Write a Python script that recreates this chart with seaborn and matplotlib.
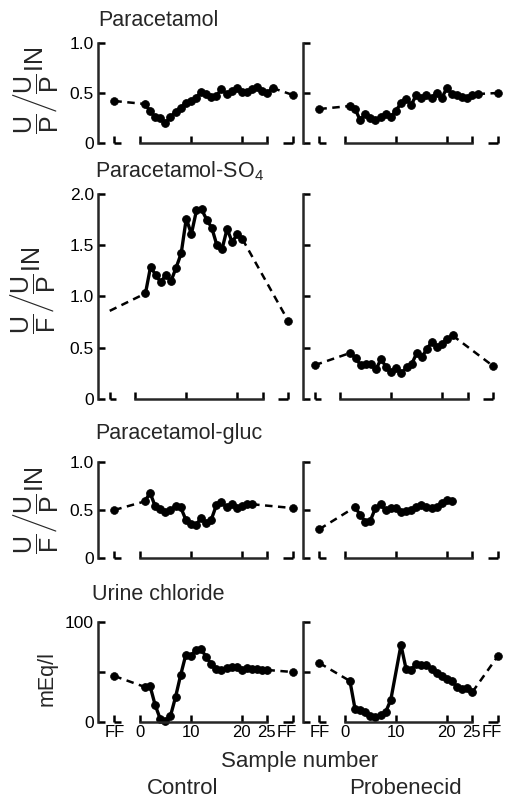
import matplotlib
matplotlib.use("Agg")
import matplotlib.pyplot as plt
import matplotlib.transforms as mtransforms
import pandas as pd
import seaborn as sns

sns.set_style("ticks")
plt.rcParams['font.family'] = ['Liberation Sans', 'DejaVu Sans']
plt.rcParams['mathtext.fontset'] = 'custom'
plt.rcParams['mathtext.rm'] = 'Liberation Sans'
plt.rcParams['mathtext.it'] = 'Liberation Sans'
plt.rcParams['mathtext.bf'] = 'Liberation Sans:bold'

# x position of the fore-period (FF) samples
FF_PRE = -5
FF_POST = 30

# Paracetamol
para_ctrl_x = list(range(1, 27))
para_ctrl_y = [0.39, 0.32, 0.26, 0.25, 0.20, 0.26, 0.31, 0.35, 0.40, 0.42, 0.45, 0.51, 0.49,
               0.46, 0.47, 0.54, 0.49, 0.52, 0.55, 0.51, 0.51, 0.54, 0.56, 0.52, 0.50, 0.55]
para_ctrl_ff = [0.42, 0.48]
para_prob_x = list(range(1, 27))
para_prob_y = [0.37, 0.34, 0.23, 0.29, 0.25, 0.23, 0.26, 0.29, 0.26, 0.32, 0.40, 0.44, 0.38,
               0.48, 0.45, 0.48, 0.45, 0.50, 0.45, 0.55, 0.49, 0.48, 0.46, 0.45, 0.48, 0.49]
para_prob_ff = [0.34, 0.50]

# Paracetamol-SO4
so4_ctrl_x = list(range(2, 22))
so4_ctrl_y = [1.03, 1.29, 1.21, 1.14, 1.21, 1.15, 1.28, 1.42, 1.76, 1.61,
              1.84, 1.85, 1.75, 1.67, 1.50, 1.46, 1.66, 1.53, 1.61, 1.56]
so4_ctrl_ff = [0.86, 0.76]
so4_prob_x = list(range(2, 23))
so4_prob_y = [0.45, 0.40, 0.33, 0.34, 0.34, 0.29, 0.39, 0.31, 0.26, 0.30, 0.25,
              0.31, 0.34, 0.45, 0.41, 0.49, 0.56, 0.51, 0.54, 0.59, 0.62]
so4_prob_ff = [0.33, 0.32]

# Paracetamol-gluc
gluc_ctrl_x = list(range(1, 23))
gluc_ctrl_y = [0.59, 0.68, 0.54, 0.51, 0.48, 0.50, 0.54, 0.53, 0.40, 0.35, 0.34,
               0.42, 0.36, 0.40, 0.55, 0.58, 0.53, 0.56, 0.52, 0.54, 0.56, 0.56]
gluc_ctrl_ff = [0.50, 0.52]
gluc_prob_x = list(range(2, 22))
gluc_prob_y = [0.53, 0.45, 0.38, 0.39, 0.52, 0.56, 0.50, 0.52, 0.52, 0.48,
               0.49, 0.50, 0.53, 0.55, 0.53, 0.52, 0.53, 0.57, 0.60, 0.59]
gluc_prob_ff = [0.30, None]

# Urine chloride (mEq/l)
cl_ctrl_x = list(range(1, 26))
cl_ctrl_y = [35, 36, 17, 3, 1, 6, 25, 47, 67, 66, 72, 73, 65,
             58, 53, 52, 54, 55, 55, 52, 54, 53, 53, 52, 52]
cl_ctrl_ff = [46, 50]
cl_prob_x = list(range(1, 10)) + list(range(11, 26))
cl_prob_y = [41, 13, 12, 10, 6, 5, 7, 10, 22,
             77, 53, 52, 58, 57, 57, 53, 49, 46, 43, 41, 35, 33, 34, 30]
cl_prob_ff = [59, 66]

x_ticks = [FF_PRE, 0, 10, 20, 25, FF_POST]
x_ticklabels = ['FF', '0', '10', '20', '25', 'FF']
# small horizontal nudges (pixels) so the crowded labels at the right end don't collide
x_label_shift = [0, 0, 0, 0, -1, -6]

W, H = 506, 799
fig = plt.figure(figsize=(W / 100, H / 100), dpi=100)

col_left = [98, 303]
col_width = 199
# (bottom, top) of each row in pixels from the top, y range, ticks
rows = [
    dict(px=(143, 43), ylim=1.0, yticks=[0, 0.5, 1.0], ylabels=['0', '0.5', '1.0'], xlim=(-8.2, 30.8)),
    dict(px=(399, 194), ylim=2.0, yticks=[0, 0.5, 1.0, 1.5, 2.0],
         ylabels=['0', '0.5', '1.0', '1.5', '2.0'], xlim=(-7.3, 31.7)),
    dict(px=(558, 462), ylim=1.0, yticks=[0, 0.5, 1.0], ylabels=['0', '0.5', '1.0'], xlim=(-8.2, 30.8)),
    dict(px=(722, 622), ylim=100, yticks=[0, 50, 100], ylabels=['0', '', '100'], xlim=(-8.2, 30.8)),
]

series = [
    [(para_ctrl_x, para_ctrl_y, para_ctrl_ff, True), (para_prob_x, para_prob_y, para_prob_ff, True)],
    [(so4_ctrl_x, so4_ctrl_y, so4_ctrl_ff, False), (so4_prob_x, so4_prob_y, so4_prob_ff, True)],
    [(gluc_ctrl_x, gluc_ctrl_y, gluc_ctrl_ff, True), (gluc_prob_x, gluc_prob_y, gluc_prob_ff, True)],
    [(cl_ctrl_x, cl_ctrl_y, cl_ctrl_ff, True), (cl_prob_x, cl_prob_y, cl_prob_ff, True)],
]

dash = (0, (3, 2.2))
axis_lw = 1.8
for r, row in enumerate(rows):
    bot, top = row['px']
    for c in range(2):
        ax = fig.add_axes([col_left[c] / W, 1 - bot / H, col_width / W, (bot - top) / H])
        ax.set_facecolor('none')
        xs, ys, ff, pre_marker = series[r][c]
        df = pd.DataFrame({'sample': xs, 'value': ys})
        sns.lineplot(data=df, x='sample', y='value', ax=ax, color='black', lw=2.4,
                     marker='o', markersize=5.5, markeredgecolor='black',
                     estimator=None, sort=False, clip_on=False)
        if ff[0] is not None:
            pre = pd.DataFrame({'sample': [FF_PRE, xs[0]], 'value': [ff[0], ys[0]]})
            sns.lineplot(data=pre, x='sample', y='value', ax=ax, color='black', lw=1.8,
                         linestyle=dash, estimator=None, sort=False, clip_on=False)
            if pre_marker:
                sns.scatterplot(x=[FF_PRE], y=[ff[0]], ax=ax, color='black', s=32,
                                edgecolor='black', clip_on=False, zorder=5)
        if ff[1] is not None:
            post = pd.DataFrame({'sample': [xs[-1], FF_POST], 'value': [ys[-1], ff[1]]})
            sns.lineplot(data=post, x='sample', y='value', ax=ax, color='black', lw=1.8,
                         linestyle=dash, estimator=None, sort=False, clip_on=False)
            sns.scatterplot(x=[FF_POST], y=[ff[1]], ax=ax, color='black', s=32,
                            edgecolor='black', clip_on=False, zorder=5)

        ax.set_xlim(*row['xlim'])
        ax.set_ylim(0, row['ylim'])
        for side in ['top', 'right']:
            ax.spines[side].set_visible(False)
        ax.spines['left'].set_bounds(0, row['ylim'])
        ax.spines['bottom'].set_bounds(0, 25)
        ax.spines['left'].set_linewidth(axis_lw)
        ax.spines['bottom'].set_linewidth(axis_lw)
        # short axis pieces under the FF samples
        ax.plot([FF_PRE, FF_PRE + 1.3], [0, 0], color='black', lw=axis_lw, clip_on=False,
                solid_capstyle='butt')
        ax.plot([FF_POST - 2.0, FF_POST], [0, 0], color='black', lw=axis_lw, clip_on=False,
                solid_capstyle='butt')

        ax.set_yticks(row['yticks'])
        ax.set_xticks(x_ticks)
        ax.tick_params(axis='both', direction='in', length=5, width=axis_lw, pad=3,
                       labelsize=12.5, colors='black')
        if c == 0:
            ax.set_yticklabels(row['ylabels'])
        else:
            ax.set_yticklabels([])
        if r == 3:
            ax.set_xticklabels(x_ticklabels)
            ax.tick_params(axis='x', pad=2, labelsize=12)
            for lab, dx in zip(ax.get_xticklabels(), x_label_shift):
                if dx:
                    off = mtransforms.ScaledTranslation(dx / 100, 0, fig.dpi_scale_trans)
                    lab.set_transform(lab.get_transform() + off)
        else:
            ax.set_xticklabels([])
        ax.set_xlabel('')
        ax.set_ylabel('')

def px(x, y):
    return x / W, 1 - y / H

title_kw = dict(fontsize=15.5, ha='left', va='center')
fig.text(*px(98, 20), 'Paracetamol', **title_kw)
fig.text(*px(95, 171), r'Paracetamol-SO$_\mathregular{4}$', **title_kw)
fig.text(*px(95, 434), 'Paracetamol-gluc', **title_kw)
fig.text(*px(92, 595), 'Urine chloride', **title_kw)

frac_kw = dict(fontsize=18, rotation=90, ha='center', va='center')
fig.text(*px(35, 90), r'$\dfrac{U}{P}\left/\dfrac{U}{P}\right.$IN', **frac_kw)
fig.text(*px(33, 290), r'$\dfrac{U}{F}\left/\dfrac{U}{P}\right.$IN', **frac_kw)
fig.text(*px(36, 510), r'$\dfrac{U}{F}\left/\dfrac{U}{P}\right.$IN', **frac_kw)
fig.text(*px(47, 678), 'mEq/l', fontsize=15.5, rotation=90, ha='center', va='center')

fig.text(*px(300, 761), 'Sample number', fontsize=16, ha='center', va='center')
fig.text(*px(183, 789), 'Control', fontsize=16, ha='center', va='center')
fig.text(*px(405, 789), 'Probenecid', fontsize=16, ha='center', va='center')

fig.savefig('out.png', dpi=100)
